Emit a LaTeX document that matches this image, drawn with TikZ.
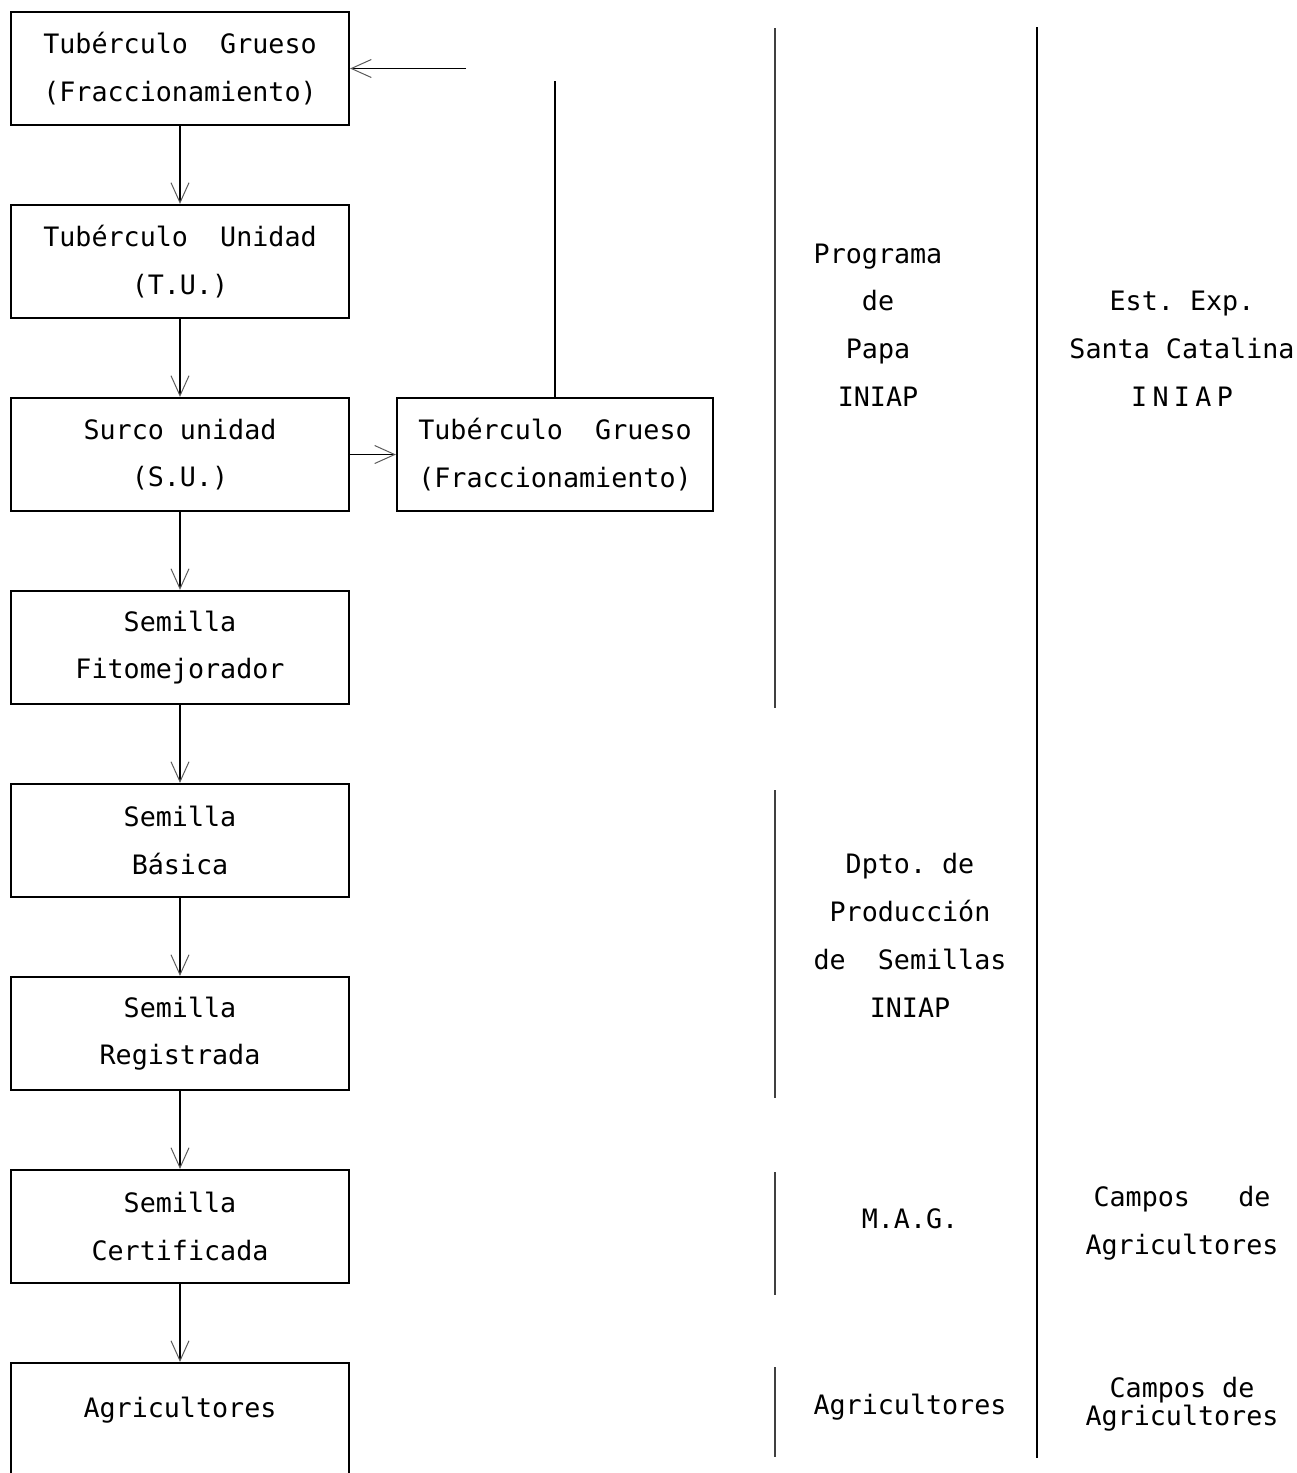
\documentclass[tikz,border=0pt]{standalone}
\usepackage{fontspec}
\setmonofont{DejaVu Sans Mono}
\usetikzlibrary{arrows.meta,positioning}

\begin{document}
\begin{tikzpicture}[
  node distance=1.944cm and 1.144cm,
  box/.style={draw, line width=1.6pt, minimum width=8.45cm, minimum height=2.825cm, align=center, font=\ttfamily\fontsize{19}{34}\selectfont},
  note/.style={align=center, font=\ttfamily\fontsize{19}{34}\selectfont},
  arrow/.style={-{Straight Barb[length=0.5cm, width=0.45cm, line width=0.7pt, color=black!65]}, line width=0.9pt},
  rule/.style={line width=2pt, draw=black!75},
  divider/.style={line width=0.9pt}
]
\fill[white] (0,0) rectangle (32.425,-36.825);
\useasboundingbox (0,0) rectangle (32.425,-36.825);
% main chain
\node[box] (tg) at (4.5,-1.7125) {Tubérculo~~Grueso\\(Fraccionamiento)};
\node[box, below=of tg] (tu) {Tubérculo~~Unidad\\(T.U.)};
\node[box, below=of tu] (su) {Surco unidad\\(S.U.)};
\node[box, right=of su, minimum width=7.9cm] (tgf) {Tubérculo~~Grueso\\(Fraccionamiento)};
\node[box, below=of su] (sf) {Semilla\\Fitomejorador};
\node[box, below=of sf] (sb) {Semilla\\Básica};
\node[box, below=of sb] (sr) {Semilla\\Registrada};
\node[box, below=of sr] (sc) {Semilla\\Certificada};
\node[box, below=of sc, minimum height=3cm, text height=0.5cm, text depth=0.8cm] (agri) {Agricultores};
\draw[arrow] (tg) -- (tu);
\draw[arrow] (tu) -- (su);
\draw[arrow] (su) -- (sf);
\draw[arrow] (sf) -- (sb);
\draw[arrow] (sb) -- (sr);
\draw[arrow] (sr) -- (sc);
\draw[arrow] (sc) -- (agri);
% feedback
\draw[arrow] (su.east) -- (tgf.west);
\coordinate (fbtop) at ([yshift=7.9cm]tgf.north);
\coordinate (fbin) at ([xshift=2.9cm]tg.east);
\draw[divider] (tgf.north) -- (fbtop);
\draw[arrow] (fbin) -- (tg.east);
% columns
\draw[rule] (19.375,-0.7) -- (19.375,-17.7);
\draw[rule] (19.375,-19.75) -- (19.375,-27.45);
\draw[rule] (19.375,-29.3) -- (19.375,-32.375);
\draw[rule] (19.375,-34.175) -- (19.375,-36.425);
\draw[divider] (25.925,-0.675) -- (25.925,-36.45);
\node[note] (prog) at (21.95,-8.125) {Programa\\de\\Papa\\INIAP};
\node[note] (est) at (29.55,-8.725) {Est. Exp.\\Santa Catalina\\{\spaceskip=0.2em I N I A P}};
\node[note] (dpto) at (22.75,-23.3875) {Dpto. de\\Producción\\de~~Semillas\\INIAP};
\node[note] (mag) at (22.75,-30.475) {M.A.G.};
\node[note] (campos) at (29.55,-30.5875) {Campos~~~de\\Agricultores};
\node[note] (agr) at (22.75,-35.175) {Agricultores};
\node[note, font=\ttfamily\fontsize{19}{20}\selectfont] (camposb) at (29.55,-35.1) {Campos de\\Agricultores};
\end{tikzpicture}
\end{document}
